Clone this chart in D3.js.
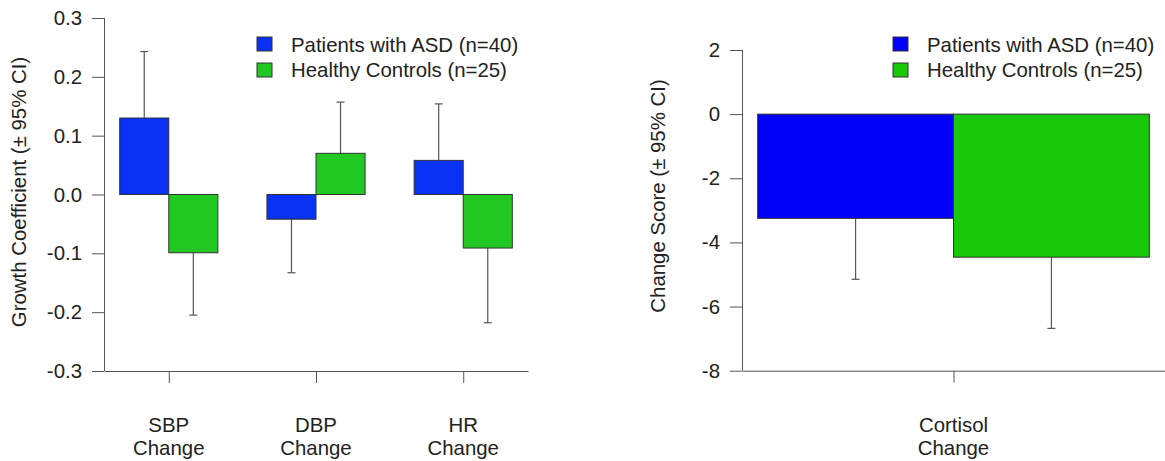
<!DOCTYPE html>
<html>
<head>
<meta charset="utf-8">
<script src="https://cdn.jsdelivr.net/npm/d3@7"></script>
<style>
  body { margin: 0; background: #fff; }
  text { font-family: "Liberation Sans", Arial, sans-serif; fill: #222; }
</style>
</head>
<body>
<div id="wrapper"></div>
<script>
// left panel: growth coefficients
const measures = [["SBP", "Change"], ["DBP", "Change"], ["HR", "Change"]];
const asdGrowth = [0.13, -0.042, 0.058];
const asdGrowthCI = [0.243, -0.133, 0.154];
const hcGrowth = [-0.099, 0.07, -0.091];
const hcGrowthCI = [-0.205, 0.157, -0.218];
const growthTicks = [-0.3, -0.2, -0.1, 0.0, 0.1, 0.2, 0.3];

// right panel: cortisol change score
const cortisolLabel = ["Cortisol", "Change"];
const asdCortisol = [-3.25];
const asdCortisolCI = [-5.15];
const hcCortisol = [-4.46];
const hcCortisolCI = [-6.68];
const cortisolTicks = [-8, -6, -4, -2, 0, 2];

const legendLabels = ["Patients with ASD (n=40)", "Healthy Controls (n=25)"];

const width = 1165;
const height = 461;
const fontSize = "20.4px";

const svg = d3
  .select("#wrapper")
  .append("svg")
  .attr("width", width)
  .attr("height", height);

const drawPanel = (opts) => {
  const { asd, asdCI, hc, hcCI, labels, ticks, fmt, xRange, yDomain, yRange, colors, legendX, title, titleX, titleY } = opts;
  const n = asd.length;
  // R barplot units: group i -> ASD [3i+1, 3i+2], HC [3i+2, 3i+3]
  const uMax = 3 * n;
  const pad = (uMax - 1) * 0.04;
  const xScale = d3.scaleLinear().domain([1 - pad, uMax + pad]).range(xRange);
  const yScale = d3.scaleLinear().domain(yDomain).range(yRange);

  const rows = [];
  for (let i = 0; i < n; i++) {
    rows.push({ u: 3 * i + 1, v: asd[i], ci: asdCI[i], color: colors[0] });
    rows.push({ u: 3 * i + 2, v: hc[i], ci: hcCI[i], color: colors[1] });
  }

  const g = svg.append("g");

  // error bars (one-sided, away from zero)
  const err = g.append("g").attr("stroke", "#555").attr("stroke-width", 1.2);
  rows.forEach((d) => {
    const cx = xScale(d.u + 0.5);
    err.append("line")
      .attr("x1", cx).attr("x2", cx)
      .attr("y1", yScale(d.v)).attr("y2", yScale(d.ci));
    err.append("line")
      .attr("x1", cx - 4).attr("x2", cx + 4)
      .attr("y1", yScale(d.ci)).attr("y2", yScale(d.ci));
  });

  g.append("g")
    .selectAll("rect")
    .data(rows)
    .join("rect")
    .attr("x", (d) => xScale(d.u))
    .attr("width", (d) => xScale(d.u + 1) - xScale(d.u))
    .attr("y", (d) => yScale(Math.max(0, d.v)))
    .attr("height", (d) => Math.abs(yScale(d.v) - yScale(0)))
    .attr("fill", (d) => d.color)
    .attr("stroke", "#333")
    .attr("stroke-width", 1);

  // y axis
  const yAxis = d3.axisLeft(yScale)
    .tickValues(ticks)
    .tickFormat(fmt)
    .tickSize(12)
    .tickSizeOuter(0)
    .tickPadding(10);
  const ya = g.append("g")
    .attr("transform", `translate(${xRange[0]},0)`)
    .call(yAxis);
  ya.select(".domain").attr("stroke", "#555").attr("d",
    `M0.5,${yScale(d3.min(ticks))}V${yScale(d3.max(ticks))}`);
  ya.selectAll(".tick line").attr("stroke", "#555");
  ya.selectAll(".tick text")
    .style("font-family", "Liberation Sans, Arial, sans-serif")
    .style("font-size", fontSize)
    .attr("fill", "#222");

  // x axis
  const centers = d3.range(n).map((i) => 3 * i + 2);
  const xAxis = d3.axisBottom(xScale)
    .tickValues(centers)
    .tickFormat("")
    .tickSize(12)
    .tickSizeOuter(0);
  const xa = g.append("g")
    .attr("transform", `translate(0,${yRange[0]})`)
    .call(xAxis);
  xa.select(".domain").attr("stroke", "#555");
  xa.selectAll(".tick line").attr("stroke", "#555");

  centers.forEach((c, i) => {
    const t = g.append("text")
      .attr("x", xScale(c))
      .attr("text-anchor", "middle")
      .style("font-size", fontSize);
    t.append("tspan").attr("x", xScale(c)).attr("y", 432).text(labels[i][0]);
    t.append("tspan").attr("x", xScale(c)).attr("y", 455).text(labels[i][1]);
  });

  // y title
  g.append("text")
    .attr("transform", `translate(${titleX},${titleY}) rotate(-90)`)
    .attr("text-anchor", "middle")
    .style("font-size", fontSize)
    .text(title);

  // legend
  const lg = g.append("g").attr("transform", `translate(${legendX},0)`);
  legendLabels.forEach((lab, i) => {
    lg.append("rect")
      .attr("x", 0).attr("y", 37 + i * 26)
      .attr("width", 15).attr("height", 14)
      .attr("fill", colors[i])
      .attr("stroke", "#333");
    lg.append("text")
      .attr("x", 34).attr("y", 51.5 + i * 25.5)
      .style("font-size", fontSize)
      .text(lab);
  });
};

drawPanel({
  asd: asdGrowth, asdCI: asdGrowthCI, hc: hcGrowth, hcCI: hcGrowthCI,
  labels: measures,
  ticks: growthTicks,
  fmt: (d) => d.toFixed(1),
  xRange: [104, 528],
  yDomain: [-0.3, 0.3],
  yRange: [371, 18],
  colors: ["#0a32f5", "#22c822"],
  legendX: 257,
  title: "Growth Coefficient (\u00b1 95% CI)",
  titleX: 26, titleY: 192,
});

drawPanel({
  asd: asdCortisol, asdCI: asdCortisolCI, hc: hcCortisol, hcCI: hcCortisolCI,
  labels: [cortisolLabel],
  ticks: cortisolTicks,
  fmt: (d) => String(d),
  xRange: [742, 1165],
  yDomain: [-8, 2],
  yRange: [370.7, 50],
  colors: ["#0000fa", "#1ac80a"],
  legendX: 893,
  title: "Change Score (\u00b1 95% CI)",
  titleX: 665, titleY: 196,
});
</script>
</body>
</html>
